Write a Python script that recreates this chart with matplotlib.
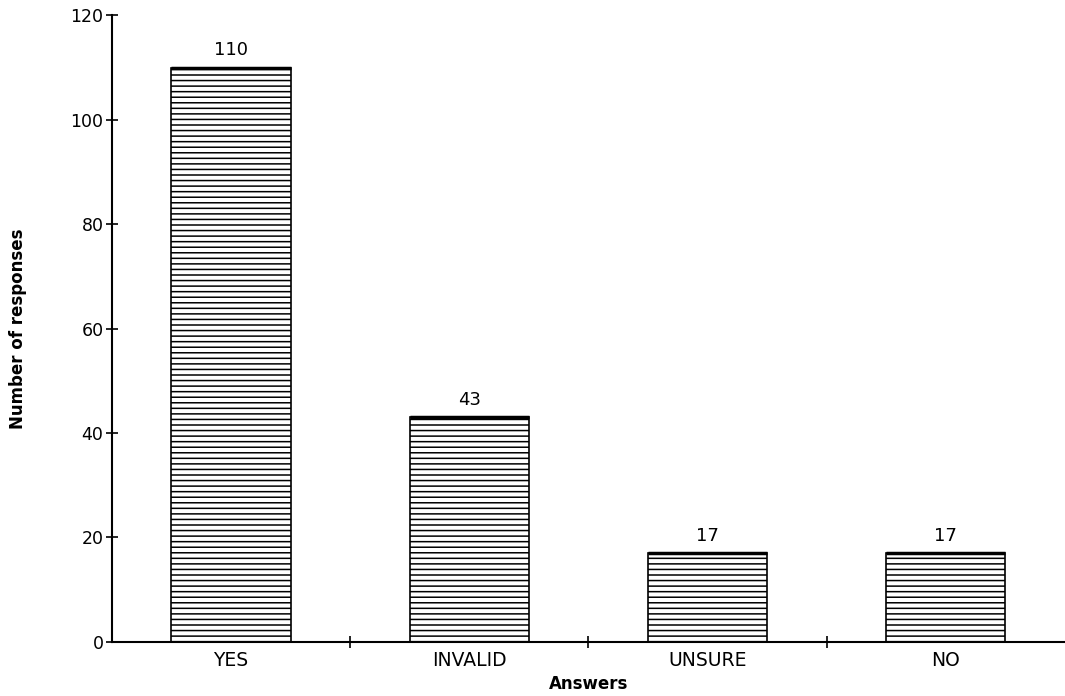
import matplotlib.pyplot as plt
import numpy as np

plt.rcParams["font.family"] = ["DejaVu Sans"]
plt.rcParams["hatch.linewidth"] = 1.1

answers = ["YES", "INVALID", "UNSURE", "NO"]
responses = [110, 43, 17, 17]
y_ticks = [0, 20, 40, 60, 80, 100, 120]


def main():
    fig = plt.figure(figsize=(10.65, 6.96), dpi=100)
    ax = fig.add_axes([0.105, 0.078, 0.895, 0.9])

    x = np.arange(len(answers))
    ax.bar(x, responses, width=0.5, facecolor="white", edgecolor="black",
           hatch="---", linewidth=1.2, zorder=2)
    # heavier top edge, as in the printed original
    ax.hlines(responses, x - 0.25, x + 0.25, colors="black", linewidth=2.5, zorder=3)

    for xi, v in zip(x, responses):
        ax.annotate(str(v), (xi, v), xytext=(0, 6), textcoords="offset points",
                    ha="center", va="bottom", fontsize=13)

    ax.set_xlim(-0.5, 3.5)
    ax.set_ylim(0, 120)
    ax.set_yticks(y_ticks)
    ax.tick_params(axis="y", direction="inout", length=8, width=1.2, labelsize=12.5, pad=2)

    ax.set_xticks(x)
    ax.set_xticklabels(answers)
    ax.tick_params(axis="x", which="major", length=0, labelsize=13.5, pad=7)
    ax.set_xticks([0.5, 1.5, 2.5], minor=True)
    ax.tick_params(axis="x", which="minor", direction="inout", length=8, width=1.2)

    for side in ("top", "right"):
        ax.spines[side].set_visible(False)
    for side in ("left", "bottom"):
        ax.spines[side].set_linewidth(1.5)

    ax.set_ylabel("Number of responses", fontsize=12, fontweight="bold", labelpad=31)
    ax.set_xlabel("Answers", fontsize=12, fontweight="bold", labelpad=3)

    fig.savefig("out.png", dpi=100)
    plt.close(fig)


if __name__ == "__main__":
    main()
